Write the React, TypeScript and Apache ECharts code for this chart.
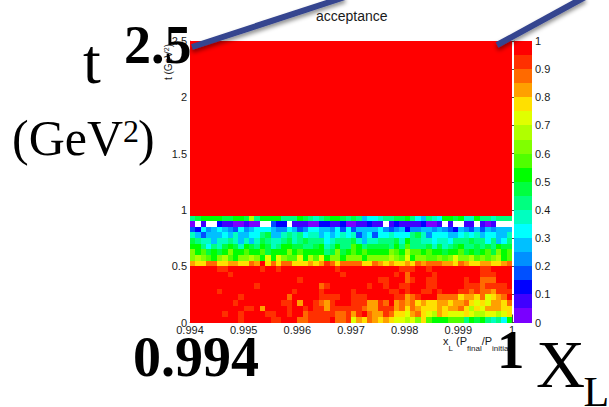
import React, { useEffect, useRef } from "react";
import * as echarts from "echarts";

const X_MIN = 0.994;
const X_MAX = 1;
const X_BINS = 60;
const T_BINS = 50;
const T_MAX = 2.5;

// One colour per 0.05 step of acceptance, from 0 up to 1
const paletteLevels = [
  "#7a00ff", "#4000ff", "#0000ff", "#0050ff", "#0090ff",
  "#00c0ff", "#00ffff", "#00ffc0", "#00ff80", "#00ff40",
  "#00ff00", "#50ff00", "#80ff00", "#b0ff00", "#e0ff00",
  "#ffe000", "#ffa000", "#ff6a00", "#ff3000", "#ff0000",
];
const levelCodes = "0123456789abcdefghij";

// Acceptance level per cell: bottom row (t = 0) first,
// one code per x bin, "." is an empty (white) cell.
const lowRows = [
  "jjjjjjjjji jjjjjiijjj hhiiiijhhi egfhgfgfee decfbaaabb b8a9a8786a",
  "jjjjjjijji jjjjiijjij jhiiiiihhi gijhggihff eghfedgfee efeddeedef",
  "jjjjjjjjjj iijgjjjjij jijiigiiii iihggiiigh fhgfffgfgg hfdfegggff",
  "jjjjjjjjij jjjjjjjiij gjjihgijjj iiiggihjgh ghfgffggfg ghfefeggfh",
  "jjjjjjjjji jjjjjjjjhj jjjjiiiijj iiijjjjjii ghijjjhhhh fggfhefghj",
  "jjjjjijjjj jjjjjjjjji jjjjijjjjj ijjjjjjiij ijjiijijjj iihihhgiii",
  "jjjjjjjjjj jjijjjjjjj jjjjhijjjj jjjijjijji ijjjiijjjj jiiihiiiij",
  "jjjjjjjjjj jjjjjjjjjj ijjjjjjjjj jjjjjiijjj hijjiijjjj jijjhhhjjj",
  "jjjjjjjijj jjjjjjjjjj jjjjjjjjij jjjjjjjjij hjjjjijjjj jjjjiiijjj",
  "jjjjjiijjj jjjijjijjj jjjjjjjijj jjjjjjjjji iijjijjjjj jjjjiijjjj",
  "gffhhffggf fhgjfhfhhf ffgfgihfhh hhffhgfgff gfhghhhggf hgffggffgh",
  "cdcbacdbac cdcaeaecbb eadbeaccac ccaccccdcb eaccbbcbce ccdbcbcdab",
  "cab9a9acaa baab9aaaca baaaa89c9a babaaaacba dbbabaa9aa b9a9ab9cab",
  "aa86879a97 a98a978aa9 9889a78a88 ba899998a8 b888979789 a889898a99",
  "9877577875 7579877897 8988867888 9757788897 a887767768 8898868568",
  "7535556575 5668955787 8677565676 7356366766 6897466655 6767566557",
  "3264565436 4566654465 3466554636 3555564345 2445545432 5435354555",
  "0.1..21100 100..322.1 1100221120 011211.121 1112001.1. .11.101...",
  "89aaaa99aa 9d8aaaa888 a98789aa98 9856678899 a865876aa9 a77a887888",
];
// Everything above t = 0.95 reads as full acceptance
const fullRow = "j".repeat(X_BINS);

const scaleTicksX = [0.994, 0.995, 0.996, 0.997, 0.998, 0.999, 1];
const titleText = "acceptance";

const xBin = (X_MAX - X_MIN) / X_BINS;
const tBin = T_MAX / T_BINS;

const rowCodes = (index: number) =>
  index < lowRows.length ? lowRows[index].replace(/ /g, "") : fullRow;

const cells: number[][] = [];
for (let r = 0; r < T_BINS; r++) {
  const codes = rowCodes(r);
  for (let c = 0; c < X_BINS; c++) {
    const level = levelCodes.indexOf(codes[c]);
    if (level < 0) continue;
    cells.push([X_MIN + c * xBin, X_MIN + (c + 1) * xBin, r * tBin, (r + 1) * tBin, level]);
  }
}
const barCells = paletteLevels.map((_, i) => [0, 1, i * 0.05, (i + 1) * 0.05, i]);

const renderCell = (_: unknown, api: any) => {
  const a = api.coord([api.value(0), api.value(2)]);
  const b = api.coord([api.value(1), api.value(3)]);
  const x0 = Math.round(a[0]);
  const x1 = Math.round(b[0]);
  const y0 = Math.round(a[1]);
  const y1 = Math.round(b[1]);
  return {
    type: "rect",
    shape: { x: x0, y: y1, width: x1 - x0, height: y0 - y1 },
    style: { fill: paletteLevels[api.value(4)] },
  };
};

const SANS = "'Liberation Sans', Arial, sans-serif";
const SERIF = "'Liberation Serif', 'Times New Roman', serif";
const INK = "#1a1a1a";

const bigText = (
  text: string,
  x: number,
  y: number,
  size: number,
  bold = false,
  lineHeight?: number,
) => ({
  type: "text",
  x,
  y,
  silent: true,
  z: 20,
  style: {
    text,
    x: 0,
    y: 0,
    fill: "#000",
    font: `${bold ? "bold " : ""}${size}px ${SERIF}`,
    textAlign: "left",
    textVerticalAlign: "bottom",
    verticalAlign: "bottom",
    ...(lineHeight ? { lineHeight } : {}),
  },
});

const pointer = (x1: number, y1: number, x2: number, y2: number) => ({
  type: "line",
  silent: true,
  z: 15,
  shape: { x1, y1, x2, y2 },
  style: {
    stroke: "#34448f",
    lineWidth: 6,
    shadowBlur: 4,
    shadowOffsetY: 3,
    shadowColor: "rgba(0,0,0,0.45)",
  },
});

export default function App() {
  const ref = useRef<HTMLDivElement>(null);

  useEffect(() => {
    if (!ref.current) return;
    const chart = echarts.init(ref.current, undefined, { renderer: "svg" });
    chart.setOption({
      animation: false,
      backgroundColor: "#fff",
      title: {
        text: titleText,
        left: 311,
        top: 4,
        textStyle: { fontFamily: SANS, fontSize: 14, fontWeight: "normal", color: INK },
      },
      grid: [
        { left: 190, top: 41, width: 322, height: 281.5 },
        { left: 514, top: 41, width: 18, height: 281.5 },
      ],
      xAxis: [
        {
          type: "value",
          gridIndex: 0,
          min: X_MIN,
          max: X_MAX,
          interval: 0.001,
          axisLine: { show: true, lineStyle: { color: "#333", width: 0.6 } },
          axisTick: { show: true, inside: true, length: 8, lineStyle: { color: "#222", width: 0.8 } },
          minorTick: { show: true, splitNumber: 5, length: 4, lineStyle: { color: "#222", width: 0.8 } },
          splitLine: { show: false },
          axisLabel: {
            fontFamily: SANS,
            fontSize: 11,
            color: INK,
            margin: 2,
            showMinLabel: true,
            showMaxLabel: true,
            formatter: (v: number) => {
              const hit = scaleTicksX.find((t) => Math.abs(t - v) < 1e-6);
              return hit === 1 ? "1" : (hit ?? v).toFixed(3);
            },
          },
        },
        {
          type: "value",
          gridIndex: 1,
          min: 0,
          max: 1,
          show: false,
        },
      ],
      yAxis: [
        {
          type: "value",
          gridIndex: 0,
          min: 0,
          max: T_MAX,
          interval: 0.5,
          axisLine: { show: true, lineStyle: { color: "#333", width: 0.6 } },
          axisTick: { show: true, inside: true, length: 9, lineStyle: { color: "#222", width: 0.8 } },
          minorTick: { show: true, splitNumber: 5, length: 5, lineStyle: { color: "#222", width: 0.8 } },
          splitLine: { show: false },
          axisLabel: {
            fontFamily: SANS,
            fontSize: 11,
            color: INK,
            margin: 3,
            showMinLabel: true,
            showMaxLabel: true,
          },
        },
        {
          type: "value",
          gridIndex: 1,
          position: "right",
          min: 0,
          max: 1,
          interval: 0.1,
          axisLine: { show: true, lineStyle: { color: "#333", width: 0.6 } },
          axisTick: { show: true, inside: true, length: 5, lineStyle: { color: "#222", width: 0.8 } },
          splitLine: { show: false },
          axisLabel: {
            fontFamily: SANS,
            fontSize: 11,
            color: INK,
            margin: 3,
            showMinLabel: true,
            showMaxLabel: true,
          },
        },
      ],
      series: [
        {
          type: "custom",
          xAxisIndex: 0,
          yAxisIndex: 0,
          silent: true,
          encode: { x: [0, 1], y: [2, 3] },
          data: cells,
          renderItem: renderCell,
        },
        {
          type: "custom",
          xAxisIndex: 1,
          yAxisIndex: 1,
          silent: true,
          encode: { x: [0, 1], y: [2, 3] },
          data: barCells,
          renderItem: renderCell,
        },
      ],
      graphic: {
        elements: [
          pointer(192, 47, 345, -3),
          pointer(497, 45, 585, -3),
          {
            type: "text",
            x: 168,
            y: 62,
            rotation: Math.PI / 2,
            silent: true,
            z: 12,
            style: {
              text: "{a|t (GeV}{s|2}{a|)}",
              x: 0,
              y: 0,
              textAlign: "center",
              textVerticalAlign: "middle",
              verticalAlign: "middle",
              rich: {
                a: { fontFamily: SANS, fontSize: 10, fill: INK, color: INK },
                s: { fontFamily: SANS, fontSize: 7, fill: INK, color: INK, verticalAlign: "top" },
              },
            },
          },
          {
            type: "text",
            x: 443,
            y: 335,
            silent: true,
            z: 12,
            style: {
              text: "{a|x}{s|L}{a| (P}{s|final}{a|/P}{s|initial}{a|)}",
              x: 0,
              y: 0,
              textAlign: "left",
              rich: {
                a: { fontFamily: SANS, fontSize: 11, lineHeight: 12, fill: INK, color: INK, verticalAlign: "top" },
                s: { fontFamily: SANS, fontSize: 8, lineHeight: 17, fill: INK, color: INK, verticalAlign: "bottom" },
              },
            },
          },
          bigText("t", 83, 93, 64),
          bigText("(GeV", 12, 162.5, 50),
          bigText("2", 123, 146.5, 32),
          bigText(")", 138, 162.5, 50),
          bigText("2.5", 124, 72, 54, true),
          bigText("0.994", 133, 384.5, 56, true),
          bigText("1", 497, 377, 55, true),
          bigText("X", 536, 398, 68),
          bigText("L", 583.5, 406, 42, false, 28),
        ],
      },
    });
    return () => chart.dispose();
  }, []);

  return (
    <div
      ref={ref}
      style={{ position: "absolute", left: 0, top: 0, width: 609, height: 407, overflow: "hidden" }}
    />
  );
}
